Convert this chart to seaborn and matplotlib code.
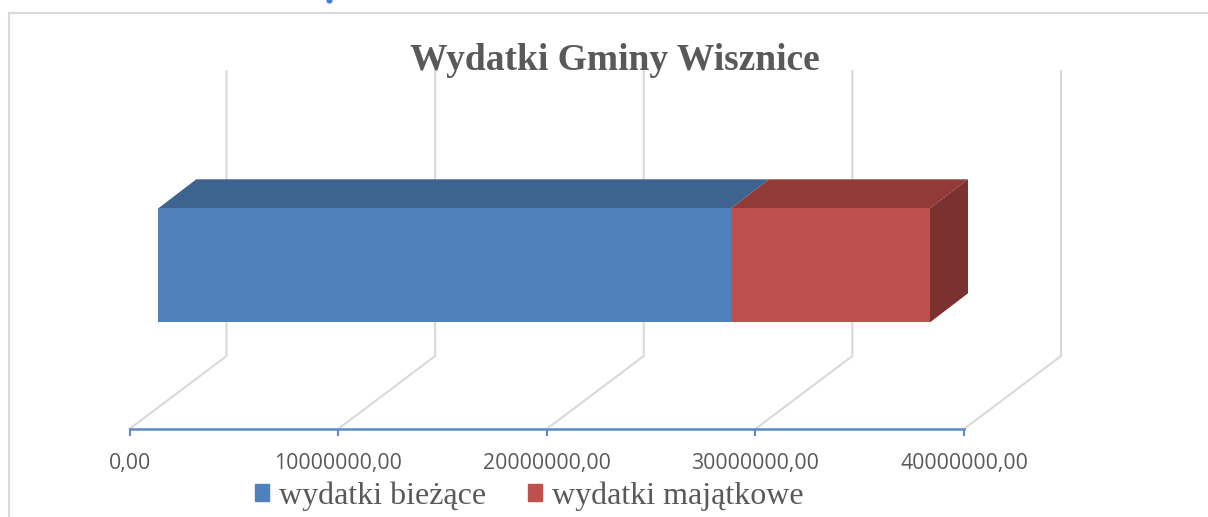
import seaborn as sns
import matplotlib.pyplot as plt
import pandas as pd
from matplotlib.patches import Rectangle

categories = ["Gmina Wisznice"]
biezace = [27450000]
majatkowe = [9540000]
series_names = ["wydatki bieżące", "wydatki majątkowe"]
tick_values = [0, 10000000, 20000000, 30000000, 40000000]
tick_labels = ["0,00", "10000000,00", "20000000,00", "30000000,00", "40000000,00"]

W, H = 1208, 517
AX_LEFT, AX_RIGHT, AX_Y = 129.5, 964, 429
BAR_LEFT, BAR_TOP, BAR_BOTTOM = 158.3, 208.3, 322.3
FLOOR_DX, FLOOR_DY, GRID_TOP = 97, 73, 71
BAR_DX, BAR_DY = 38, 29

sns.set_theme(style="white")
plt.rcParams["font.family"] = ["Liberation Serif", "DejaVu Serif"]

fig = plt.figure(figsize=(W / 100, H / 100), dpi=100)

# full-figure layer in pixels for the frame and the floor/back grid
bg = fig.add_axes([0, 0, 1, 1])
bg.set_xlim(0, W)
bg.set_ylim(H, 0)
bg.axis("off")
bg.plot([9, 9, W], [H, 13, 13], color="#d9d9d9", lw=1.5, solid_joinstyle="miter")
# bit of a cut-off letter at the top edge of the page
bg.plot([329], [0], "o", ms=4.5, color="#4a7fd8", mew=0, clip_on=True)

px_per_unit = (AX_RIGHT - AX_LEFT) / tick_values[-1]
for v in tick_values:
    x0 = AX_LEFT + v * px_per_unit
    bg.plot([x0, x0 + FLOOR_DX, x0 + FLOOR_DX], [AX_Y, AX_Y - FLOOR_DY, GRID_TOP],
            color="#d9d9d9", lw=1.5, solid_joinstyle="miter")

# axis with the value scale
ax = fig.add_axes([AX_LEFT / W, 1 - AX_Y / H, (AX_RIGHT - AX_LEFT) / W, 0.001])
ax.patch.set_alpha(0)
ax.set_xlim(0, tick_values[-1])
ax.set_yticks([])
ax.set_xticks(tick_values)
ax.set_xticklabels(tick_labels, family="Open Sans", fontsize=15.3, color="#595959")
ax.tick_params(axis="x", length=5, width=1.5, color="#5b8ac6", pad=12, bottom=True)
for s in ["top", "left", "right"]:
    ax.spines[s].set_visible(False)
ax.spines["bottom"].set_color("#5b8ac6")
ax.spines["bottom"].set_linewidth(1.8)

# bars: same scale as the axis, moved to the front plane of the 3D box
bar_ax = fig.add_axes([BAR_LEFT / W, 1 - BAR_BOTTOM / H, (AX_RIGHT - AX_LEFT) / W,
                       (BAR_BOTTOM - BAR_TOP) / H])
bar_ax.patch.set_alpha(0)

total = [a + b for a, b in zip(biezace, majatkowe)]
df = pd.DataFrame({"kategoria": categories, "bieżące": biezace, "razem": total})
sns.barplot(data=df, y="kategoria", x="razem", color="#c0504d", saturation=1, width=1,
            ax=bar_ax, zorder=3, linewidth=0, edgecolor="none")
sns.barplot(data=df, y="kategoria", x="bieżące", color="#4f81bd", saturation=1, width=1,
            ax=bar_ax, zorder=4, linewidth=0, edgecolor="none")
bar_ax.set_xlim(0, tick_values[-1])
bar_ax.set_ylim(0.5, -0.5)
bar_ax.axis("off")

# top and side faces of the box, worked out from the values
def box_face(xs, ys, color):
    bg.fill(xs, ys, color=color, lw=0, zorder=3)

x_blue = BAR_LEFT + biezace[0] * px_per_unit
x_end = BAR_LEFT + total[0] * px_per_unit
box_face([BAR_LEFT, x_blue, x_blue + BAR_DX, BAR_LEFT + BAR_DX],
         [BAR_TOP, BAR_TOP, BAR_TOP - BAR_DY, BAR_TOP - BAR_DY], "#3e638f")
box_face([x_blue, x_end, x_end + BAR_DX, x_blue + BAR_DX],
         [BAR_TOP, BAR_TOP, BAR_TOP - BAR_DY, BAR_TOP - BAR_DY], "#913a38")
box_face([x_end, x_end + BAR_DX, x_end + BAR_DX, x_end],
         [BAR_TOP, BAR_TOP - BAR_DY, BAR_BOTTOM - BAR_DY, BAR_BOTTOM], "#7b3130")

fig.text(615 / W, 1 - 61 / H, "Wydatki Gminy Wisznice", ha="center", va="center",
         fontsize=27, fontweight="bold", color="#595959")

# legend
handles = [Rectangle((0, 0), 1, 1, color="#4f81bd"), Rectangle((0, 0), 1, 1, color="#c0504d")]
fig.legend(handles, series_names, loc="center", bbox_to_anchor=(529 / W, 1 - 496 / H),
           ncol=2, frameon=False, fontsize=23, labelcolor="#595959",
           handlelength=0.44, handleheight=0.44, handletextpad=0.32, columnspacing=1.3)

fig.savefig("out.png", dpi=100)
